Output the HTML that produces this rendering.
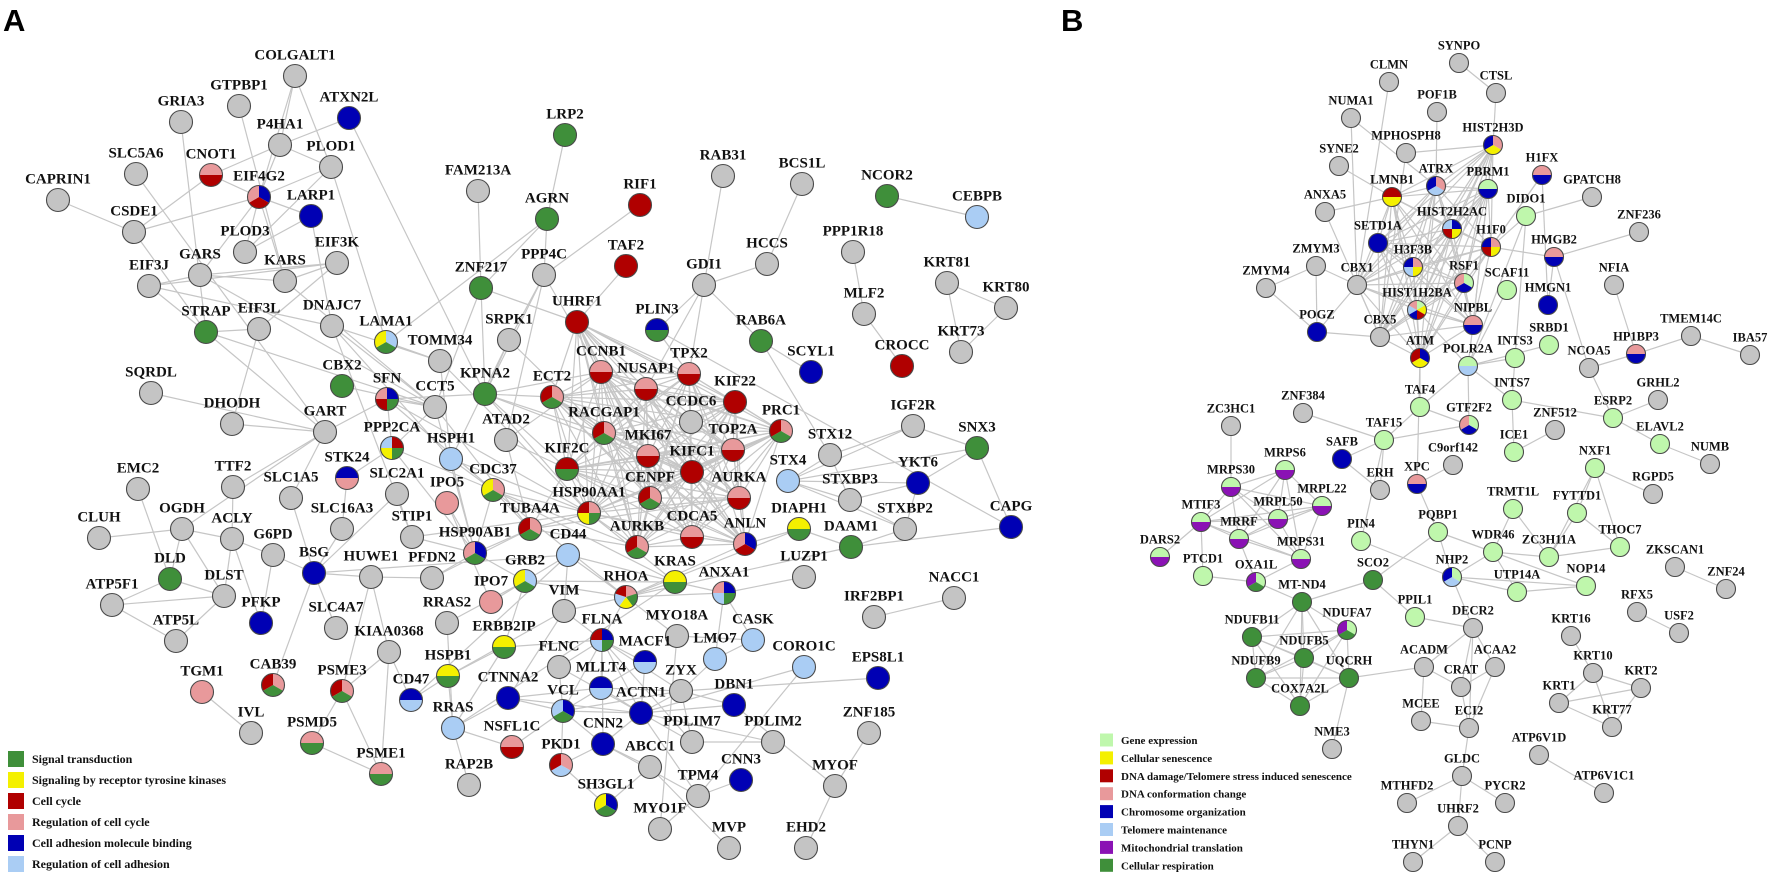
<!DOCTYPE html>
<html><head><meta charset="utf-8">
<style>
html,body{margin:0;padding:0;background:#fff;}
svg{display:block;}
.lbA{font:bold 15px "Liberation Serif",serif;fill:#111;text-anchor:middle;}
.lbB{font:bold 12.5px "Liberation Serif",serif;fill:#111;text-anchor:middle;}
.lg{font:bold 12px "Liberation Serif",serif;fill:#111;}
.lgB{font:bold 11px "Liberation Serif",serif;fill:#111;}
</style></head>
<body>
<svg id="net" width="1772" height="877" viewBox="0 0 1772 877" xmlns="http://www.w3.org/2000/svg">
<text x="3" y="31" style="font:bold 31px 'Liberation Sans',sans-serif">A</text>
<text x="1061" y="31" style="font:bold 31px 'Liberation Sans',sans-serif">B</text>
<g id="edges"></g><g id="nodes"></g><g id="legend"></g>
</svg>
<script>
const palette={g:"#c4c4c4",G:"#3f8f3a",Y:"#f4f000",R:"#b00000",P:"#e8999b",B:"#0000b4",L:"#aacdf4",E:"#bff7ac",V:"#8a12b4",D:"#3f8f3a"};
const nodesA=[
["COLGALT1",295,76,"g"],["GTPBP1",239,106,"g"],["GRIA3",181,122,"g"],["ATXN2L",349,118,"B"],["P4HA1",280,145,"g"],["PLOD1",331,167,"g"],
["SLC5A6",136,174,"g"],["CNOT1",211,175,"PR"],["CAPRIN1",58,200,"g"],["EIF4G2",259,197,"BRP"],["LARP1",311,216,"B"],["CSDE1",134,232,"g"],
["PLOD3",245,252,"g"],["EIF3K",337,263,"g"],["GARS",200,275,"g"],["KARS",285,281,"g"],["EIF3J",149,286,"g"],["STRAP",206,332,"G"],
["EIF3L",259,329,"g"],["DNAJC7",332,326,"g"],["LAMA1",386,342,"LGY"],["TOMM34",440,361,"g"],["CBX2",342,386,"G"],["SFN",387,399,"BGRP"],
["CCT5",435,407,"g"],["SQRDL",151,393,"g"],["DHODH",232,424,"g"],["GART",325,432,"g"],
["LRP2",565,135,"G"],["FAM213A",478,191,"g"],["AGRN",547,219,"G"],["RIF1",640,205,"R"],["RAB31",723,176,"g"],["BCS1L",802,184,"g"],
["NCOR2",887,196,"G"],["CEBPB",977,217,"L"],["TAF2",626,266,"R"],["HCCS",767,264,"g"],["PPP1R18",853,252,"g"],["PPP4C",544,275,"g"],
["GDI1",704,285,"g"],["ZNF217",481,288,"G"],["UHRF1",577,322,"R"],["PLIN3",657,330,"BG"],["SRPK1",509,340,"g"],["RAB6A",761,341,"G"],
["MLF2",864,314,"g"],["KRT81",947,283,"g"],["KRT80",1006,308,"g"],["KRT73",961,352,"g"],["CROCC",902,366,"R"],["SCYL1",811,372,"B"],
["CCNB1",601,372,"PR"],["TPX2",689,374,"PR"],["NUSAP1",646,389,"PR"],["KPNA2",485,394,"G"],["ECT2",552,397,"PGR"],["KIF22",735,402,"R"],
["CCDC6",691,422,"g"],["PRC1",781,431,"PGR"],["ATAD2",506,440,"g"],["RACGAP1",604,433,"PGR"],["MKI67",648,456,"PR"],["KIFC1",692,472,"R"],
["TOP2A",733,450,"PR"],["IGF2R",913,426,"g"],["SNX3",977,448,"G"],
["HSPH1",451,459,"L"],["STX12",830,455,"g"],["KIF2C",567,469,"RG"],["CDC37",493,490,"PGY"],["IPO5",447,503,"P"],["STX4",788,481,"L"],
["STXBP3",850,500,"g"],["CENPF",650,498,"PGR"],["AURKA",739,498,"PR"],["HSP90AA1",589,513,"PGYR"],["TUBA4A",530,529,"PGR"],["DIAPH1",799,529,"YG"],
["DAAM1",851,547,"G"],["CDCA5",692,537,"PR"],["ANLN",745,544,"BRP"],["AURKB",637,547,"PGR"],["HSP90AB1",475,553,"BGP"],["CD44",568,555,"L"],
["GRB2",525,581,"LGY"],["KRAS",675,582,"YG"],["LUZP1",804,577,"g"],["RHOA",626,597,"PGYLR"],["ANXA1",724,593,"BGLP"],["IPO7",491,602,"P"],
["VIM",564,611,"g"],["RRAS2",447,623,"g"],["IRF2BP1",874,617,"g"],["FLNA",602,640,"BGLR"],["MYO18A",677,636,"g"],["CASK",753,640,"L"],
["ERBB2IP",504,647,"YG"],["CORO1C",804,667,"L"],["LMO7",715,659,"L"],["MACF1",645,662,"BL"],["FLNC",559,667,"g"],["HSPB1",448,676,"YG"],
["EPS8L1",878,678,"B"],["MLLT4",601,688,"BL"],["ZYX",681,691,"g"],["CTNNA2",508,698,"B"],["DBN1",734,705,"B"],["VCL",563,711,"BGL"],
["ACTN1",641,713,"B"],["RRAS",453,728,"L"],["ZNF185",869,733,"g"],["NSFL1C",512,747,"PR"],["CNN2",603,744,"B"],["PDLIM7",692,742,"g"],
["PDLIM2",773,742,"g"],["PKD1",561,765,"PLR"],["ABCC1",650,767,"g"],["RAP2B",469,785,"g"],["CNN3",741,780,"B"],["MYOF",835,786,"g"],
["TPM4",698,796,"g"],["SH3GL1",606,805,"BGY"],["MYO1F",660,829,"g"],["MVP",729,848,"g"],["EHD2",806,848,"g"],
["YKT6",918,483,"B"],["STXBP2",905,529,"g"],["CAPG",1011,527,"B"],["NACC1",954,598,"g"],
["PPP2CA",392,448,"RGYL"],["STK24",347,478,"BP"],["EMC2",138,489,"g"],["TTF2",233,487,"g"],["SLC1A5",291,498,"g"],["SLC2A1",397,494,"g"],
["CLUH",99,538,"g"],["OGDH",182,529,"g"],["ACLY",232,539,"g"],["SLC16A3",342,529,"g"],["STIP1",412,537,"g"],["G6PD",273,555,"g"],
["DLD",170,579,"G"],["BSG",314,573,"B"],["HUWE1",371,577,"g"],["PFDN2",432,578,"g"],["ATP5F1",112,605,"g"],["DLST",224,596,"g"],
["PFKP",261,623,"B"],["SLC4A7",336,628,"g"],["KIAA0368",389,652,"g"],["ATP5L",176,641,"g"],["TGM1",202,692,"P"],["CAB39",273,685,"PGR"],
["PSME3",342,691,"PGR"],["CD47",411,700,"BL"],["IVL",251,733,"g"],["PSMD5",312,743,"PG"],["PSME1",381,774,"PG"]
];
const nodesB=[
["SYNPO",1459,63,"g"],["CLMN",1389,82,"g"],["CTSL",1496,93,"g"],["NUMA1",1351,118,"g"],["POF1B",1437,112,"g"],["HIST2H3D",1493,145,"PYB"],
["MPHOSPH8",1406,153,"g"],["SYNE2",1339,166,"g"],["H1FX",1542,175,"PB"],["ATRX",1436,186,"PLB"],["PBRM1",1488,189,"EB"],["LMNB1",1392,197,"RY"],
["GPATCH8",1592,197,"g"],["ANXA5",1325,212,"g"],["DIDO1",1526,216,"E"],["HIST2H2AC",1452,229,"BYRL"],["ZNF236",1639,232,"g"],["SETD1A",1378,243,"B"],
["H1F0",1491,247,"PYRB"],["HMGB2",1554,257,"PB"],["ZMYM3",1316,266,"g"],["ZMYM4",1266,288,"g"],["H3F3B",1413,267,"PYLB"],["CBX1",1357,285,"g"],
["NFIA",1614,285,"g"],["RSF1",1464,283,"EBP"],["SCAF11",1507,290,"E"],["HMGN1",1548,305,"B"],["HIST1H2BA",1417,310,"EYRBLP"],["NIPBL",1473,325,"PB"],
["POGZ",1317,332,"B"],["CBX5",1380,337,"g"],["TMEM14C",1691,336,"g"],["SRBD1",1549,345,"E"],["IBA57",1750,355,"g"],["HP1BP3",1636,354,"PB"],
["ATM",1420,358,"BYR"],["INTS3",1515,358,"E"],["POLR2A",1468,366,"EL"],["NCOA5",1589,368,"g"],["GRHL2",1658,400,"g"],["INTS7",1512,400,"E"],
["TAF4",1420,407,"E"],["ESRP2",1613,418,"E"],["GTF2F2",1469,425,"EBP"],["ZNF512",1555,430,"g"],["ZNF384",1303,413,"g"],["ZC3HC1",1231,426,"g"],
["TAF15",1384,440,"E"],["ELAVL2",1660,444,"E"],["ICE1",1514,452,"E"],["NUMB",1710,464,"g"],["SAFB",1342,459,"B"],["C9orf142",1453,465,"g"],
["NXF1",1595,468,"E"],["ERH",1380,490,"g"],["XPC",1417,484,"PB"],["RGPD5",1653,494,"g"],["TRMT1L",1513,509,"E"],["FYTTD1",1577,513,"E"],
["PQBP1",1438,532,"E"],["PIN4",1361,541,"E"],["WDR46",1493,552,"E"],["ZC3H11A",1549,557,"E"],["THOC7",1620,547,"E"],["ZKSCAN1",1675,567,"g"],
["SCO2",1373,580,"D"],["NHP2",1452,577,"ELB"],["UTP14A",1517,592,"E"],["NOP14",1586,586,"E"],["ZNF24",1726,589,"g"],["RFX5",1637,612,"g"],
["PPIL1",1415,617,"E"],["NDUFA7",1347,630,"EDV"],["DECR2",1473,628,"g"],["USF2",1679,633,"g"],["KRT16",1571,636,"g"],["ACADM",1424,667,"g"],
["ACAA2",1495,667,"g"],["KRT10",1593,673,"g"],["UQCRH",1349,678,"D"],["CRAT",1461,687,"g"],["KRT2",1641,688,"g"],["KRT1",1559,703,"g"],
["MCEE",1421,721,"g"],["ECI2",1469,728,"g"],["KRT77",1612,727,"g"],["NME3",1332,749,"g"],["ATP6V1D",1539,755,"g"],["GLDC",1462,776,"g"],
["ATP6V1C1",1604,793,"g"],["MTHFD2",1407,803,"g"],["PYCR2",1505,803,"g"],["UHRF2",1458,826,"g"],["THYN1",1413,862,"g"],["PCNP",1495,862,"g"],
["MRPS6",1285,470,"EV"],["MRPS30",1231,487,"EV"],["MRPL22",1322,506,"EV"],["MTIF3",1201,522,"EV"],["MRPL50",1278,519,"EV"],["MRRF",1239,539,"EV"],
["DARS2",1160,557,"EV"],["MRPS31",1301,559,"EV"],["PTCD1",1203,576,"E"],["OXA1L",1256,582,"EDV"],["MT-ND4",1302,602,"D"],["NDUFB11",1252,637,"D"],
["NDUFB5",1304,658,"D"],["NDUFB9",1256,678,"D"],["COX7A2L",1300,706,"D"]
];
const edgeList="COLGALT1:P4HA1 COLGALT1:PLOD1 COLGALT1:EIF4G2 P4HA1:PLOD1 P4HA1:ATXN2L P4HA1:CNOT1 P4HA1:EIF4G2 PLOD1:PLOD3 PLOD1:EIF4G2 ATXN2L:KPNA2 GRIA3:STRAP GTPBP1:KARS SLC5A6:GART CNOT1:CSDE1 CNOT1:EIF4G2 CAPRIN1:CSDE1 CSDE1:EIF4G2 CSDE1:STRAP EIF4G2:LARP1 EIF4G2:PLOD3 EIF4G2:KARS EIF4G2:GARS LARP1:PLOD3 LARP1:DNAJC7 EIF3K:KARS EIF3K:GARS EIF3K:EIF3L EIF3K:EIF3J GARS:KARS GARS:EIF3J EIF3J:STRAP EIF3J:DNAJC7 GARS:CCT5 KARS:CCT5 STRAP:EIF3L STRAP:GART STRAP:CCT5 DNAJC7:CCT5 DNAJC7:TOMM34 DNAJC7:HSPH1 DNAJC7:STIP1 LAMA1:AGRN LAMA1:TOMM34 LAMA1:PLOD1 SQRDL:GART DHODH:GART DHODH:EIF3L GART:SFN GART:TTF2 GART:SLC1A5 GART:OGDH CBX2:CCT5 SFN:CCT5 SFN:PPP2CA SFN:KPNA2 SFN:CDC37 SFN:HSP90AA1 PPP2CA:CCT5 PPP2CA:STK24 PPP2CA:CDC37 PPP2CA:HSP90AB1 FAM213A:ZNF217 LRP2:AGRN AGRN:PPP4C AGRN:ZNF217 ZNF217:KPNA2 ZNF217:CCT5 ZNF217:UHRF1 RIF1:PPP4C TAF2:UHRF1 RAB31:GDI1 BCS1L:HCCS HCCS:GDI1 GDI1:RAB6A GDI1:PLIN3 GDI1:TPX2 GDI1:NUSAP1 PPP4C:SRPK1 PPP4C:KPNA2 PPP4C:ATAD2 PPP4C:MKI67 PPP1R18:MLF2 MLF2:CROCC NCOR2:CEBPB KRT81:KRT80 KRT81:KRT73 KRT80:KRT73 RAB6A:STX12 RAB6A:SCYL1 PLIN3:CAPG SRPK1:KPNA2 SRPK1:RACGAP1 SRPK1:HSPH1 TOMM34:HSPH1 TOMM34:HSP90AA1 CCT5:HSP90AB1 CCT5:TUBA4A IGF2R:SNX3 IGF2R:STX12 IGF2R:STX4 SNX3:CAPG SNX3:YKT6 STX12:STX4 STX12:STXBP3 STX4:STXBP3 STX4:STXBP2 STX4:YKT6 STXBP3:YKT6 STXBP2:YKT6 STXBP2:DAAM1 STXBP3:STXBP2 DAAM1:DIAPH1 DAAM1:RHOA DAAM1:CAPG IRF2BP1:NACC1 STX4:SNX3 EMC2:DLD TTF2:ACLY CLUH:OGDH OGDH:DLD OGDH:DLST OGDH:ACLY DLD:DLST DLD:ATP5F1 ATP5F1:DLST ATP5F1:ATP5L ATP5L:DLST ACLY:G6PD ACLY:DLST ACLY:PFKP G6PD:PFKP G6PD:BSG SLC1A5:BSG SLC16A3:BSG SLC2A1:BSG STK24:SLC16A3 SLC2A1:STIP1 STIP1:HSP90AB1 STIP1:HSP90AA1 BSG:HUWE1 BSG:CAB39 BSG:SLC4A7 BSG:CD44 HUWE1:PFDN2 HUWE1:KIAA0368 HUWE1:PSME3 PFDN2:HSP90AB1 PFDN2:TUBA4A KIAA0368:PSME3 KIAA0368:PSME1 KIAA0368:CD47 PSME3:PSMD5 PSME3:PSME1 PSMD5:PSME1 TGM1:IVL CD47:CD44 HSPB1:RRAS RRAS:CTNNA2 RRAS:RRAS2 RRAS2:GRB2 RRAS:ERBB2IP RRAS:KRAS IPO5:IPO7 IPO5:HSP90AB1 IPO7:GRB2 GRB2:KRAS GRB2:ERBB2IP GRB2:CD44 GRB2:HSP90AB1 GRB2:RHOA CD44:VIM CD44:RHOA CD44:KRAS VIM:FLNA VIM:RHOA VIM:CTNNA2 FLNA:RHOA FLNA:MACF1 FLNA:FLNC FLNA:VCL FLNA:MLLT4 FLNA:ACTN1 FLNA:ZYX FLNA:PDLIM7 FLNA:CNN2 FLNC:VCL FLNC:ACTN1 MACF1:MLLT4 MACF1:ACTN1 MLLT4:VCL MLLT4:CTNNA2 MLLT4:ZYX MLLT4:ACTN1 CTNNA2:VCL CTNNA2:ACTN1 VCL:ACTN1 VCL:ZYX VCL:PKD1 VCL:CNN2 ACTN1:ZYX ACTN1:PDLIM7 ACTN1:PDLIM2 ACTN1:DBN1 ACTN1:CNN2 ACTN1:TPM4 ZYX:PDLIM7 ZYX:LMO7 ZYX:DBN1 RHOA:KRAS RHOA:ANXA1 RHOA:MYO18A RHOA:DIAPH1 RHOA:CDC37 KRAS:ANXA1 KRAS:HSP90AA1 ANXA1:CASK ANXA1:LMO7 CASK:LMO7 CASK:MYO18A CORO1C:ACTN1 CORO1C:TPM4 LUZP1:ANXA1 MYO18A:MYO1F CNN2:ABCC1 CNN2:TPM4 PDLIM7:PDLIM2 TPM4:CNN3 TPM4:MYO1F SH3GL1:PKD1 SH3GL1:ABCC1 MYOF:EHD2 MYOF:DBN1 EPS8L1:ZYX ZNF185:MYOF MVP:ABCC1 NSFL1C:VCL RAP2B:RRAS NSFL1C:RRAS ERBB2IP:FLNA ERBB2IP:HSPB1 HSPB1:CD47 HSPB1:VIM PKD1:CNN2 KPNA2:CCNB1 KPNA2:ECT2 KPNA2:RACGAP1 KPNA2:KIF2C KPNA2:MKI67 KPNA2:HSP90AA1 TUBA4A:KIF2C TUBA4A:AURKA TUBA4A:AURKB TUBA4A:HSP90AA1 TUBA4A:CDC37 TUBA4A:HSP90AB1 CDC37:HSP90AA1 CDC37:HSP90AB1 CDC37:AURKB CDC37:KRAS ATAD2:CCNB1 ATAD2:KIF2C ATAD2:TUBA4A HSPH1:HSP90AA1 HSPH1:HSP90AB1 HSPH1:CDC37 PLIN3:TPX2 ANLN:RHOA ANLN:DIAPH1 CCDC6:TPX2 CCDC6:KIF22 CCDC6:NUSAP1 CCDC6:TOP2A "+
"SYNPO:CTSL CTSL:HIST2H3D CLMN:CBX1 NUMA1:CBX1 NUMA1:ATRX POF1B:ATRX MPHOSPH8:HIST2H3D MPHOSPH8:CBX5 SYNE2:LMNB1 LMNB1:HIST2H2AC ANXA5:LMNB1 ANXA5:CBX5 ZMYM4:ZMYM3 ZMYM4:POGZ ZMYM3:CBX1 ZMYM3:POGZ POGZ:CBX5 POGZ:CBX1 H1FX:H1F0 H1FX:HMGN1 GPATCH8:DIDO1 ZNF236:HMGB2 DIDO1:H1F0 DIDO1:POLR2A DIDO1:INTS3 SCAF11:POLR2A HMGN1:HMGB2 NFIA:HP1BP3 HP1BP3:TMEM14C TMEM14C:IBA57 HP1BP3:NCOA5 HMGB2:NCOA5 NCOA5:ESRP2 GRHL2:ESRP2 ESRP2:ELAVL2 ESRP2:INTS7 ELAVL2:NUMB SRBD1:POLR2A INTS3:POLR2A INTS3:INTS7 INTS7:POLR2A INTS7:ICE1 POLR2A:TAF4 POLR2A:GTF2F2 TAF4:TAF15 TAF4:GTF2F2 TAF4:ATM TAF15:SAFB TAF15:ERH TAF15:GTF2F2 TAF15:PIN4 ZNF384:TAF15 ZC3HC1:MRPS30 SAFB:ERH XPC:C9orf142 XPC:PQBP1 XPC:ATM PQBP1:WDR46 PQBP1:NHP2 PQBP1:SCO2 PIN4:NHP2 NHP2:WDR46 NHP2:UTP14A NHP2:NOP14 WDR46:UTP14A WDR46:NOP14 WDR46:TRMT1L WDR46:ZC3H11A TRMT1L:ZC3H11A UTP14A:NOP14 ZC3H11A:FYTTD1 ZC3H11A:THOC7 FYTTD1:NXF1 FYTTD1:THOC7 NXF1:THOC7 NXF1:RGPD5 ZC3H11A:NXF1 ICE1:ZNF512 ZKSCAN1:ZNF24 RFX5:USF2 NHP2:DECR2 PPIL1:DECR2 DECR2:ACADM DECR2:CRAT DECR2:ACAA2 DECR2:ECI2 ACADM:CRAT ACADM:MCEE ACADM:UQCRH CRAT:ACAA2 CRAT:ECI2 ACAA2:ECI2 MCEE:ECI2 ECI2:GLDC GLDC:MTHFD2 GLDC:PYCR2 GLDC:UHRF2 UHRF2:THYN1 UHRF2:PCNP KRT16:KRT10 KRT10:KRT2 KRT10:KRT1 KRT10:KRT77 KRT1:KRT2 KRT1:KRT77 KRT2:KRT77 ATP6V1D:ATP6V1C1 SCO2:MT-ND4 SCO2:PPIL1 NME3:UQCRH DARS2:MTIF3 PTCD1:MTIF3 PTCD1:OXA1L OXA1L:MRPS31 OXA1L:MRRF OXA1L:MT-ND4 H1F0:HMGB2 H1F0:H1FX NIPBL:POLR2A HIST1H2BA:POLR2A";
const cliques=[
"CCNB1 NUSAP1 TPX2 KIF22 PRC1 TOP2A KIFC1 MKI67 RACGAP1 ECT2 KIF2C CENPF AURKA AURKB CDCA5 ANLN UHRF1 HSP90AA1",
"HIST2H3D ATRX PBRM1 HIST2H2AC H1F0 H3F3B RSF1 HIST1H2BA NIPBL ATM CBX1 CBX5 SETD1A LMNB1",
"MRPS6 MRPS30 MRPL22 MTIF3 MRPL50 MRRF MRPS31",
"MT-ND4 NDUFB11 NDUFB5 NDUFB9 COX7A2L UQCRH NDUFA7"
];
const legendA=[["G","Signal transduction"],["Y","Signaling by receptor tyrosine kinases"],["R","Cell cycle"],["P","Regulation of cell cycle"],["B","Cell adhesion molecule binding"],["L","Regulation of cell adhesion"]];
const legendB=[["E","Gene expression"],["Y","Cellular senescence"],["R","DNA damage/Telomere stress induced senescence"],["P","DNA conformation change"],["B","Chromosome organization"],["L","Telomere maintenance"],["V","Mitochondrial translation"],["D","Cellular respiration"]];

const NS="http://www.w3.org/2000/svg";
const pos={};
nodesA.forEach(n=>pos[n[0]]={x:n[1],y:n[2],r:11.5});
nodesB.forEach(n=>pos[n[0]]={x:n[1],y:n[2],r:9.5});
const eg=document.getElementById("edges");
function addEdge(a,b){
  const p=pos[a],q=pos[b]; if(!p||!q) return;
  const l=document.createElementNS(NS,"line");
  l.setAttribute("x1",p.x);l.setAttribute("y1",p.y);l.setAttribute("x2",q.x);l.setAttribute("y2",q.y);
  l.setAttribute("stroke","#c6c6c6");l.setAttribute("stroke-width","1.2");
  
  
  eg.appendChild(l);
}
edgeList.split(" ").forEach(s=>{const i=s.indexOf(":");addEdge(s.slice(0,i),s.slice(i+1));});
cliques.forEach(c=>{const m=c.split(" ");for(let i=0;i<m.length;i++)for(let j=i+1;j<m.length;j++)addEdge(m[i],m[j]);});

const ng=document.getElementById("nodes");
function pt(cx,cy,r,a){return [cx+r*Math.sin(a),cy-r*Math.cos(a)];}
function drawNode(n,big){
  const [name,x,y,cols]=n; const r=big?11.5:9.5;
  const g=document.createElementNS(NS,"g");
  
  
  const k=cols.length;
  if(k===1){
    const c=document.createElementNS(NS,"circle");
    c.setAttribute("cx",x);c.setAttribute("cy",y);c.setAttribute("r",r);c.setAttribute("fill",palette[cols]);
    g.appendChild(c);
  } else {
    const start=(k===2)?-Math.PI/2:0;
    for(let i=0;i<k;i++){
      const a0=start+i*2*Math.PI/k,a1=start+(i+1)*2*Math.PI/k;
      const p0=pt(x,y,r,a0),p1=pt(x,y,r,a1);
      const path=document.createElementNS(NS,"path");
      path.setAttribute("d",`M${x},${y}L${p0[0]},${p0[1]}A${r},${r} 0 ${(a1-a0)>Math.PI?1:0} 1 ${p1[0]},${p1[1]}Z`);
      path.setAttribute("fill",palette[cols[i]]);
      g.appendChild(path);
    }
  }
  const o=document.createElementNS(NS,"circle");
  o.setAttribute("cx",x);o.setAttribute("cy",y);o.setAttribute("r",r);o.setAttribute("fill","none");
  o.setAttribute("stroke","#4a4a4a");o.setAttribute("stroke-width","1.1");
  g.appendChild(o);
  const t=document.createElementNS(NS,"text");
  t.setAttribute("x",x);t.setAttribute("y",y-r-(big?5:4));
  t.setAttribute("class",big?"lbA":"lbB");t.textContent=name;
  g.appendChild(t);
  ng.appendChild(g);
}
nodesA.forEach(n=>drawNode(n,true));
nodesB.forEach(n=>drawNode(n,false));

const lgG=document.getElementById("legend");
function drawLegend(items,x0,ys,step,size,cls,key){
  items.forEach((it,i)=>{
    const g=document.createElementNS(NS,"g");
    
    
    const y=ys+i*step;
    const r=document.createElementNS(NS,"rect");
    r.setAttribute("x",x0);r.setAttribute("y",y-size/2);r.setAttribute("width",size);r.setAttribute("height",size);
    r.setAttribute("fill",palette[it[0]]);g.appendChild(r);
    const t=document.createElementNS(NS,"text");
    t.setAttribute("x",x0+size+8);t.setAttribute("y",y+4);t.setAttribute("class",cls);t.textContent=it[1];
    g.appendChild(t);lgG.appendChild(g);
  });
}
drawLegend(legendA,8,759,21,16,"lg","legend-a");
drawLegend(legendB,1100,740,17.9,13,"lgB","legend-b");
</script>
</body></html>
